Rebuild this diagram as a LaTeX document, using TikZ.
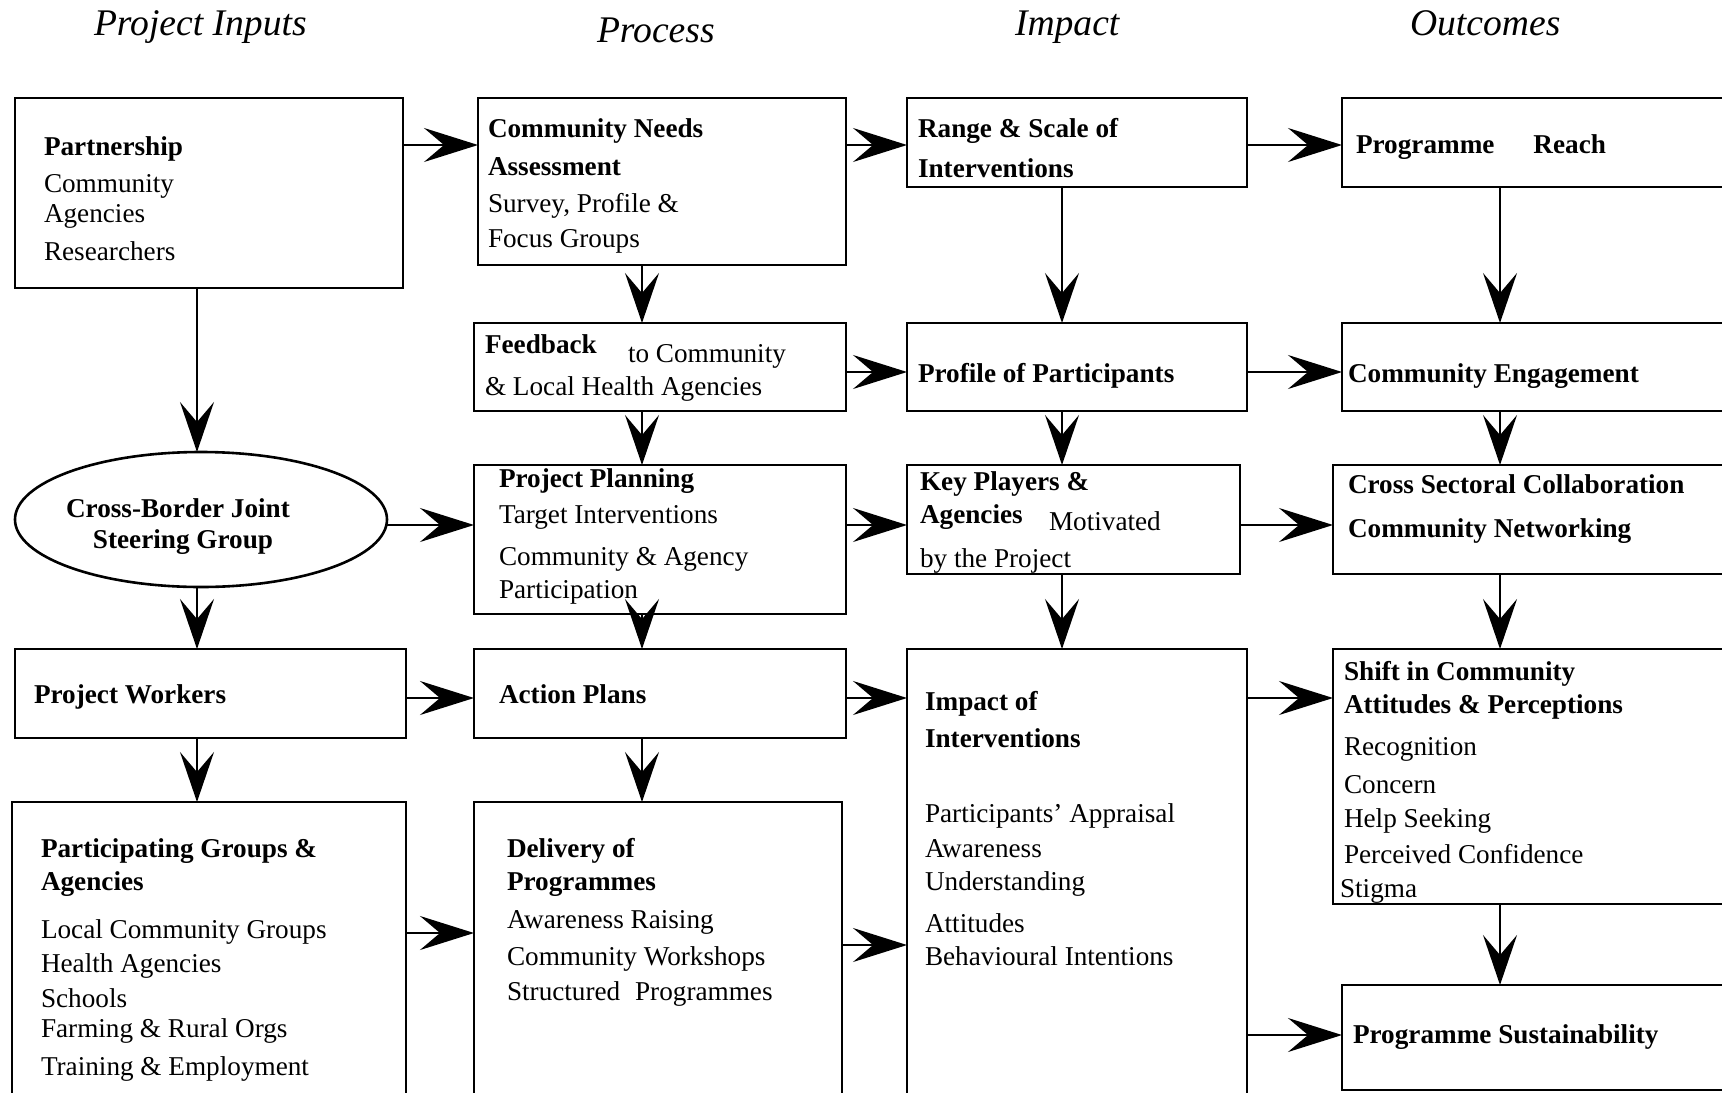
\documentclass[tikz,border=0pt]{standalone}
\usepackage{fontspec}
\setmainfont{Liberation Serif}
\usetikzlibrary{arrows.meta,fit,shapes.geometric}
\begin{document}
\begin{tikzpicture}[x=0.5pt,y=-0.5pt,
  box/.style={draw, line width=1.3pt, inner sep=0pt, outer sep=0pt},
  txt/.style={inner sep=0pt, outer sep=0pt, anchor=base west, font=\fontsize{13.6}{16}\selectfont},
  bt/.style={txt, font=\fontsize{13.6}{16}\selectfont\bfseries},
  ttl/.style={txt, font=\fontsize{18.8}{22}\selectfont\itshape},
  hconn/.style={line width=1.3pt, -{Stealth[length=27pt,width=17pt,inset=10pt]}},
  vconn/.style={line width=1.0pt, -{Stealth[length=25pt,width=17pt,inset=10pt]}}]
\useasboundingbox (0,0) rectangle (1722,1092);
\clip (0,0) rectangle (1722,1092);
\fill[white] (0,0) rectangle (1722,1092);

% titles
\node[ttl] (h1) at (94,35) {Project Inputs};
\node[ttl] (h2) at (597,42) {Process};
\node[ttl] (h3) at (1015,35) {Impact};
\node[ttl] (h4) at (1410,35) {Outcomes};

% boxes
\node[box, fit={(15,98) (403,288)}] (part) {};
\node[box, fit={(478,98) (846,265)}] (cn) {};
\node[box, fit={(907,98) (1247,187)}] (range) {};
\node[box, fit={(1342,98) (1760,187)}] (reach) {};
\node[box, fit={(474,323) (846,411)}] (fb) {};
\node[box, fit={(907,323) (1247,411)}] (prof) {};
\node[box, fit={(1342,323) (1760,411)}] (ce) {};
\node[draw, line width=1.3pt, ellipse, inner sep=0pt, outer sep=0pt, minimum width=186pt, minimum height=67.5pt] (ell) at (201,519.5) {};
\node[box, fit={(474,465) (846,614)}] (pp) {};
\node[box, fit={(907,465) (1240,574)}] (key) {};
\node[box, fit={(1333,465) (1760,574)}] (cs) {};
\node[box, fit={(15,649) (406,738)}] (pw) {};
\node[box, fit={(474,649) (846,738)}] (ap) {};
\node[box, fit={(907,649) (1247,1110)}] (imp) {};
\node[box, fit={(1333,649) (1760,904)}] (shift) {};
\node[box, fit={(12,802) (406,1110)}] (partg) {};
\node[box, fit={(474,802) (842,1110)}] (del) {};
\node[box, fit={(1342,985) (1760,1090)}] (sust) {};

% texts: Partnership
\node[bt] (t1) at (44,155) {Partnership};
\node[txt] (t2) at (44,192) {Community};
\node[txt] (t3) at (44,222) {Agencies};
\node[txt] (t4) at (44,260) {Researchers};
% Community needs
\node[bt] (t5) at (488,137) {Community Needs};
\node[bt] (t6) at (488,175) {Assessment};
\node[txt] (t7) at (488,212) {Survey, Profile \&};
\node[txt] (t8) at (488,247) {Focus Groups};
% Range
\node[bt] (t9) at (918,137) {Range \& Scale of};
\node[bt] (t10) at (918,177) {Interventions};
% Reach
\node[bt] (t11) at (1356,153) {Programme\hspace*{19.5pt}Reach};
% Feedback
\node[bt] (t12) at (485,353) {Feedback};
\node[txt] (t13) at (628,362) {to Community};
\node[txt] (t14) at (485,395) {\& Local Health Agencies};
% Profile
\node[bt] (t15) at (918,382) {Profile of Participants};
% Community engagement
\node[bt] (t16) at (1348,382) {Community Engagement};
% Ellipse
\node[bt, anchor=base] (t17) at (178,517) {Cross-Border Joint};
\node[bt, anchor=base] (t18) at (183,548) {Steering Group};
% Project planning
\node[bt] (t19) at (499,487) {Project Planning};
\node[txt] (t20) at (499,523) {Target Interventions};
\node[txt] (t21) at (499,565) {Community \& Agency};
\node[txt] (t22) at (499,598) {Participation};
% Key players
\node[bt] (t23) at (920,490) {Key Players \&};
\node[bt] (t24) at (920,523) {Agencies};
\node[txt] (t25) at (1049,530) {Motivated};
\node[txt] (t26) at (920,567) {by the Project};
% Cross sectoral
\node[bt] (t27) at (1348,493) {Cross Sectoral Collaboration};
\node[bt] (t28) at (1348,537) {Community Networking};
% Project workers / action plans
\node[bt] (t29) at (34,703) {Project Workers};
\node[bt] (t30) at (499,703) {Action Plans};
% Participating groups
\node[bt] (t31) at (41,857) {Participating Groups \&};
\node[bt] (t32) at (41,890) {Agencies};
\node[txt] (t33) at (41,938) {Local Community Groups};
\node[txt] (t34) at (41,972) {Health Agencies};
\node[txt] (t35) at (41,1007) {Schools};
\node[txt] (t36) at (41,1037) {Farming \& Rural Orgs};
\node[txt] (t37) at (41,1075) {Training \& Employment};
% Delivery
\node[bt] (t38) at (507,857) {Delivery of};
\node[bt] (t39) at (507,890) {Programmes};
\node[txt] (t40) at (507,928) {Awareness Raising};
\node[txt] (t41) at (507,965) {Community Workshops};
\node[txt] (t42) at (507,1000) {Structured\hspace*{4pt} Programmes};
% Impact of interventions
\node[bt] (t43) at (925,710) {Impact of};
\node[bt] (t44) at (925,747) {Interventions};
\node[txt] (t45) at (925,822) {Participants’ Appraisal};
\node[txt] (t46) at (925,857) {Awareness};
\node[txt] (t47) at (925,890) {Understanding};
\node[txt] (t48) at (925,932) {Attitudes};
\node[txt] (t49) at (925,965) {Behavioural Intentions};
% Shift
\node[bt] (t50) at (1344,680) {Shift in Community};
\node[bt] (t51) at (1344,713) {Attitudes \& Perceptions};
\node[txt] (t52) at (1344,755) {Recognition};
\node[txt] (t53) at (1344,793) {Concern};
\node[txt] (t54) at (1344,827) {Help Seeking};
\node[txt] (t55) at (1344,863) {Perceived Confidence};
\node[txt] (t56) at (1340,897) {Stigma};
% Sustainability
\node[bt] (t57) at (1353,1043) {Programme Sustainability};

% horizontal connectors
\draw[hconn] (part.east |- 0,145) -- (cn.west |- 0,145);
\draw[hconn] (cn.east |- 0,145) -- (range.west |- 0,145);
\draw[hconn] (range.east |- 0,145) -- (reach.west |- 0,145);
\draw[hconn] (fb.east |- 0,372) -- (prof.west |- 0,372);
\draw[hconn] (prof.east |- 0,372) -- (ce.west |- 0,372);
\draw[hconn] (ell.east |- 0,525) -- (pp.west |- 0,525);
\draw[hconn] (pp.east |- 0,525) -- (key.west |- 0,525);
\draw[hconn] (key.east |- 0,525) -- (cs.west |- 0,525);
\draw[hconn] (pw.east |- 0,698) -- (ap.west |- 0,698);
\draw[hconn] (ap.east |- 0,698) -- (imp.west |- 0,698);
\draw[hconn] (imp.east |- 0,698) -- (shift.west |- 0,698);
\draw[hconn] (partg.east |- 0,933) -- (del.west |- 0,933);
\draw[hconn] (del.east |- 0,945) -- (imp.west |- 0,945);
\draw[hconn] (imp.east |- 0,1035) -- (sust.west |- 0,1035);

% vertical connectors
\draw[vconn] (part.south -| 197,0) -- (ell.north -| 197,0);
\draw[vconn] (ell.south -| 197,0) -- (pw.north -| 197,0);
\draw[vconn] (pw.south -| 197,0) -- (partg.north -| 197,0);
\draw[vconn] (cn.south -| 642,0) -- (fb.north -| 642,0);
\draw[vconn] (fb.south -| 642,0) -- (pp.north -| 642,0);
\draw[vconn] (pp.south -| 642,0) -- (ap.north -| 642,0);
\draw[vconn] (ap.south -| 642,0) -- (del.north -| 642,0);
\draw[vconn] (range.south -| 1062,0) -- (prof.north -| 1062,0);
\draw[vconn] (prof.south -| 1062,0) -- (key.north -| 1062,0);
\draw[vconn] (key.south -| 1062,0) -- (imp.north -| 1062,0);
\draw[vconn] (reach.south -| 1500,0) -- (ce.north -| 1500,0);
\draw[vconn] (ce.south -| 1500,0) -- (cs.north -| 1500,0);
\draw[vconn] (cs.south -| 1500,0) -- (shift.north -| 1500,0);
\draw[vconn] (shift.south -| 1500,0) -- (sust.north -| 1500,0);
\end{tikzpicture}
\end{document}
